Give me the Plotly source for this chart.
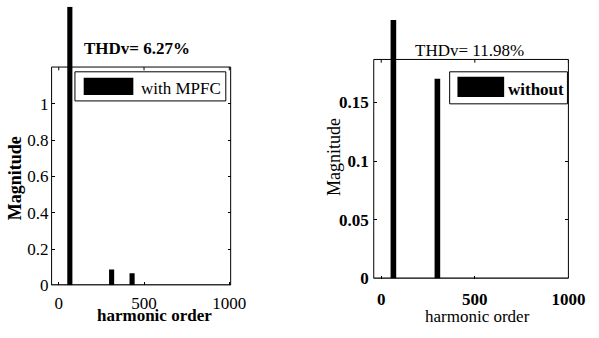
import plotly.graph_objects as go

# ---- data ----
left_order = [65, 310, 430]
left_mag = [1.535, 0.087, 0.066]
right_order = [65, 300]
right_mag = [0.22, 0.170]
left_title = "THDv= 6.27%"
right_title = "THDv= 11.98%"
left_legend = "with MPFC"
right_legend = "without"
x_ticks = [0, 500, 1000]
left_yticks = [0, 0.2, 0.4, 0.6, 0.8, 1]
left_yticklabels = ["0", "0.2", "0.4", "0.6", "0.8", "1"]
right_yticks = [0, 0.05, 0.1, 0.15]
right_yticklabels = ["0", "0.05", "0.1", "0.15"]
left_ylim = 1.203    # visible axes box top (bars may rise above it)
right_ylim = 0.1865

W, H = 599, 338
FONT = "Liberation Serif, Times New Roman, serif"


def px(x):
    return x / W


def py(y):
    return 1 - y / H


fig = go.Figure()
fig.add_trace(go.Bar(x=left_order, y=left_mag, width=30, marker=dict(color="black", line=dict(width=0)),
                     xaxis="x", yaxis="y", showlegend=False, name=left_legend))
fig.add_trace(go.Bar(x=right_order, y=right_mag, width=30, marker=dict(color="black", line=dict(width=0)),
                     xaxis="x2", yaxis="y2", showlegend=False, name=right_legend))

xcommon = dict(showline=False, ticks="inside", ticklen=3, tickcolor="black", showgrid=False, zeroline=False)
ycommon = dict(showline=False, mirror="ticks", ticks="inside", ticklen=3, tickcolor="black",
               showgrid=False, zeroline=False)

# axes extend up to the top of the tallest bar; the drawn frame stops at the *_ylim value
fig.update_layout(
    width=W, height=H, margin=dict(l=0, r=0, t=0, b=0),
    paper_bgcolor="white", plot_bgcolor="rgba(0,0,0,0)",
    xaxis=dict(domain=[px(53), px(237)], range=[-42, 1008], tickvals=x_ticks, ticklabelstandoff=6,
               tickfont=dict(family=FONT, size=17, color="black"), anchor="y", **xcommon),
    yaxis=dict(domain=[py(294), py(7)], range=[0, max(left_mag)], tickvals=left_yticks,
               ticktext=left_yticklabels, ticklabelstandoff=2,
               tickfont=dict(family=FONT, size=17, color="black"), anchor="x", **ycommon),
    xaxis2=dict(domain=[px(384), px(584)], range=[-40, 1000], tickvals=x_ticks, ticklabelstandoff=8,
                tickfont=dict(family=FONT, size=17, color="black", weight="bold"), anchor="y2", **xcommon),
    yaxis2=dict(domain=[py(287), py(20.7)], range=[0, max(right_mag)], tickvals=right_yticks,
                ticktext=right_yticklabels, ticklabelstandoff=4,
                tickfont=dict(family=FONT, size=17, color="black", weight="bold"), anchor="x2", **ycommon),
)

shapes = []
for xa, ya, top in (("x", "y", left_ylim), ("x2", "y2", right_ylim)):
    # axes frame
    shapes.append(dict(type="rect", xref=f"{xa} domain", yref=ya, x0=0, x1=1, y0=0, y1=top,
                       line=dict(color="black", width=1), fillcolor="rgba(0,0,0,0)", layer="above"))
    # thicker baseline
    shapes.append(dict(type="line", xref=f"{xa} domain", yref=ya, x0=0, x1=1, y0=0, y1=0,
                       line=dict(color="black", width=2), layer="above"))
    # top ticks
    for t in x_ticks:
        shapes.append(dict(type="line", xref=xa, yref=ya, x0=t, x1=t, y0=top, y1=top * 0.985,
                           line=dict(color="black", width=1)))

# legend boxes (paper coords)
shapes += [
    dict(type="rect", xref="paper", yref="paper", x0=px(77), x1=px(232), y0=py(104), y1=py(74),
         line=dict(color="black", width=1), fillcolor="white", layer="above"),
    dict(type="rect", xref="paper", yref="paper", x0=px(86), x1=px(137), y0=py(98), y1=py(80),
         line=dict(width=0), fillcolor="black", layer="above"),
    dict(type="rect", xref="paper", yref="paper", x0=px(462), x1=px(583), y0=py(107), y1=py(74),
         line=dict(color="black", width=1), fillcolor="white", layer="above"),
    dict(type="rect", xref="paper", yref="paper", x0=px(470), x1=px(518), y0=py(100), y1=py(79),
         line=dict(width=0), fillcolor="black", layer="above"),
]
fig.update_layout(shapes=shapes)


def ann(text, x, y, bold=False, xanchor="center", angle=0, size=17):
    fig.add_annotation(text=text, xref="paper", yref="paper", x=px(x), y=py(y), xanchor=xanchor,
                       yanchor="middle", showarrow=False, textangle=angle,
                       font=dict(family=FONT, size=size, color="black", weight="bold" if bold else "normal"))


ann(left_title, 141, 50, bold=True)
ann(right_title, 482, 52)
ann(left_legend, 143, 91, xanchor="left")
ann(right_legend, 520, 92, bold=True, xanchor="left")
ann("Magnitude", 15, 184, bold=True, angle=-90, size=18)
ann("harmonic order", 159, 325, bold=True)
ann("Magnitude", 343, 162, angle=-90, size=18)
ann("harmonic order", 491, 326)

fig.write_html("out.html")
